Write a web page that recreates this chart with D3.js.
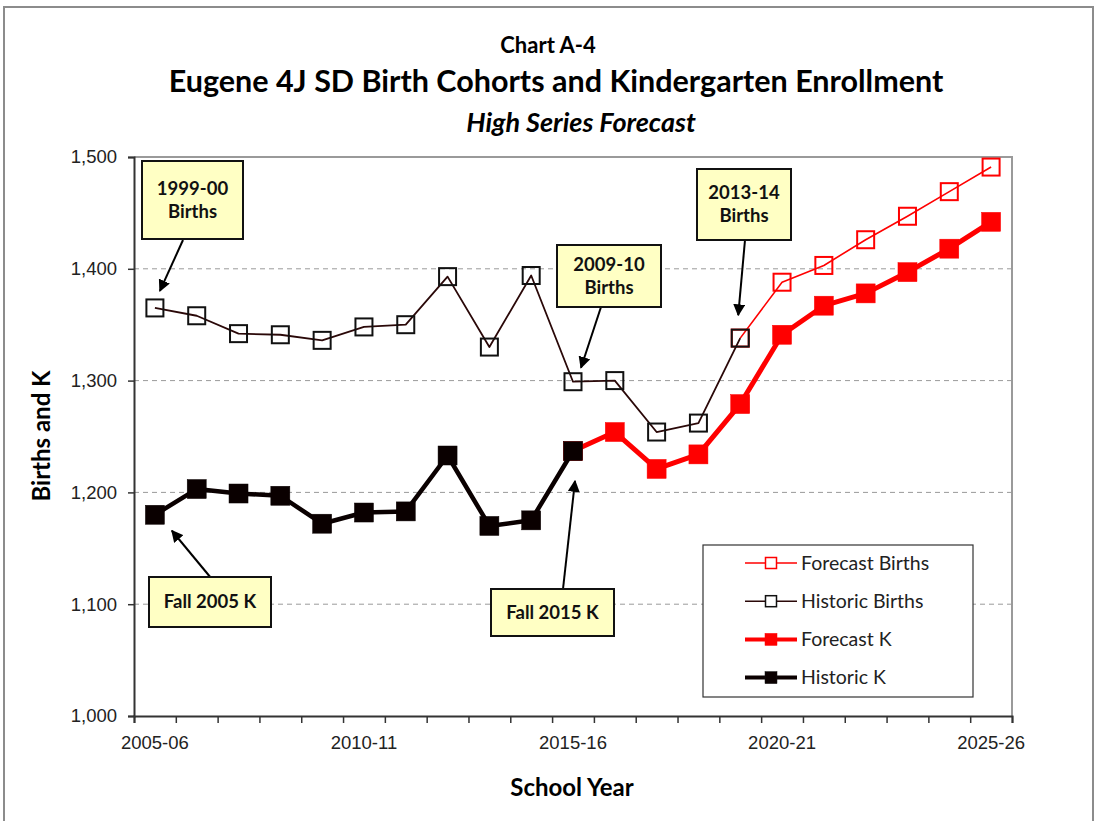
<!DOCTYPE html>
<html>
<head>
<meta charset="utf-8">
<script src="https://cdn.jsdelivr.net/npm/d3@7"></script>
<style>
    body { margin: 0; background: #fff; }
    svg { font-family: Lato, "Open Sans", sans-serif; }
</style>
</head>
<body>
<div id="chart"></div>
<script>
const years = ["2005-06", "2006-07", "2007-08", "2008-09", "2009-10", "2010-11", "2011-12",
    "2012-13", "2013-14", "2014-15", "2015-16", "2016-17", "2017-18", "2018-19", "2019-20",
    "2020-21", "2021-22", "2022-23", "2023-24", "2024-25", "2025-26"];
const yearLabels = ["2005-06", "2010-11", "2015-16", "2020-21", "2025-26"];
const yTicks = [1000, 1100, 1200, 1300, 1400, 1500];

// births: index 0-14 historic, 14-20 forecast
const historicBirths = [1365, 1358, 1342, 1341, 1336, 1348, 1350, 1393, 1330, 1394, 1299, 1300, 1254, 1262, 1338];
const forecastBirths = [1338, 1388, 1403, 1426, 1447, 1469, 1491];
// K: index 0-10 historic, 10-20 forecast
const historicK = [1180, 1203, 1199, 1197, 1172, 1182, 1183, 1233, 1170, 1175, 1237];
const forecastK = [1237, 1254, 1221, 1234, 1279, 1341, 1367, 1378, 1397, 1418, 1442];

const width = 1097;
const height = 821;

const svg = d3.select("#chart")
    .append("svg")
    .attr("width", width)
    .attr("height", height);

// outer frame
svg.append("rect")
    .attr("x", 4).attr("y", 7)
    .attr("width", 1089).attr("height", 830)
    .attr("fill", "none")
    .attr("stroke", "#8c8c8c")
    .attr("stroke-width", 2);

const x = d3.scaleBand()
    .domain(years)
    .range([134, 1012]);

const xEdge = d3.scaleLinear()
    .domain([0, years.length])
    .range([134, 1012]);

const y = d3.scaleLinear()
    .domain([1000, 1500])
    .range([716, 157]);

const cx = d => x(d) + x.bandwidth() / 2;

// gridlines
svg.append("g")
    .selectAll("line")
    .data(yTicks.slice(1, -1))
    .enter().append("line")
    .attr("x1", 134).attr("x2", 1012)
    .attr("y1", d => y(d)).attr("y2", d => y(d))
    .attr("stroke", "#9a9a9a")
    .attr("stroke-dasharray", "5,4");

// plot frame (top / right)
svg.append("path")
    .attr("d", `M134,157H1012V716`)
    .attr("fill", "none")
    .attr("stroke", "#9a9a9a")
    .attr("stroke-width", 2);

// y axis
const yAxis = svg.append("g")
    .attr("transform", "translate(134,0)")
    .call(d3.axisLeft(y).tickValues(yTicks).tickFormat(d3.format(",")).tickSize(6).tickPadding(11));
yAxis.selectAll("text").attr("font-size", 18.5).attr("fill", "#222");

// x axis tick marks at category edges
const xAxisTicks = svg.append("g")
    .attr("transform", "translate(0,716)")
    .call(d3.axisBottom(xEdge).tickValues(d3.range(years.length + 1)).tickFormat("").tickSize(7));

// x axis labels at category centers
const xAxisLabels = svg.append("g")
    .attr("transform", "translate(0,716)")
    .call(d3.axisBottom(x).tickValues(yearLabels).tickSize(0).tickPadding(20));
xAxisLabels.select(".domain").remove();
xAxisLabels.selectAll("text").attr("font-size", 18.5).attr("fill", "#222");

[yAxis, xAxisTicks].forEach(g => {
    g.select(".domain").attr("stroke", "#333").attr("stroke-width", 2);
    g.selectAll(".tick line").attr("stroke", "#333").attr("stroke-width", 1.5);
});

// titles
svg.append("text")
    .attr("x", 548).attr("y", 53)
    .attr("text-anchor", "middle")
    .attr("font-size", 22).attr("font-weight", "bold")
    .text("Chart A-4");
svg.append("text")
    .attr("x", 556).attr("y", 92)
    .attr("text-anchor", "middle")
    .attr("font-size", 30.5).attr("font-weight", "bold")
    .text("Eugene 4J SD Birth Cohorts and  Kindergarten Enrollment");
svg.append("text")
    .attr("x", 581).attr("y", 132)
    .attr("text-anchor", "middle")
    .attr("font-size", 27).attr("font-weight", "bold").attr("font-style", "italic")
    .text("High Series Forecast");

svg.append("text")
    .attr("transform", "translate(50,436) rotate(-90)")
    .attr("text-anchor", "middle")
    .attr("font-size", 24).attr("font-weight", "bold")
    .text("Births and K");
svg.append("text")
    .attr("x", 572).attr("y", 796)
    .attr("text-anchor", "middle")
    .attr("font-size", 24).attr("font-weight", "bold")
    .text("School Year");

// series
const series = [
    { name: "Forecast Births", values: forecastBirths, start: 14, color: "#ff0000", width: 1.6, filled: false, size: 17 },
    { name: "Forecast K", values: forecastK, start: 10, color: "#ff0000", width: 5, filled: true, size: 19 },
    { name: "Historic Births", values: historicBirths, start: 0, color: "#2a0808", width: 1.8, filled: false, size: 17 },
    { name: "Historic K", values: historicK, start: 0, color: "#0a0000", width: 4.5, filled: true, size: 19 }
];

const line = d3.line()
    .x(d => cx(d.year))
    .y(d => y(d.value));

series.forEach(s => {
    const pts = s.values.map((v, i) => ({ year: years[s.start + i], value: v }));
    const g = svg.append("g").attr("class", "series");
    g.append("path")
        .datum(pts)
        .attr("d", line)
        .attr("fill", "none")
        .attr("stroke", s.color)
        .attr("stroke-width", s.width)
        .attr("stroke-linejoin", "round");
    const half = s.size / 2;
    g.selectAll("rect")
        .data(pts)
        .enter().append("rect")
        .attr("x", d => cx(d.year) - half)
        .attr("y", d => y(d.value) - half)
        .attr("width", s.size)
        .attr("height", s.size)
        .attr("fill", s.filled ? s.color : "none")
        .attr("stroke", s.filled ? s.color : (s.color === "#ff0000" ? "#ff0000" : "#111"))
        .attr("stroke-width", s.filled ? 0.5 : 2);
});

// callouts, arrow tip anchored to a data point
const callouts = [
    { lines: ["1999-00", "Births"], box: [142, 161, 101, 78], tail: [183, 240], year: "2005-06", value: historicBirths[0], dx: 5, dy: -17 },
    { lines: ["2009-10", "Births"], box: [557, 245, 104, 62], tail: [601, 307], year: "2015-16", value: historicBirths[10], dx: 8, dy: -14 },
    { lines: ["2013-14", "Births"], box: [697, 169, 94, 71], tail: [745, 240], year: "2019-20", value: historicBirths[14], dx: -2, dy: -23 },
    { lines: ["Fall 2005 K"], box: [149, 577, 122, 50], tail: [211, 578], year: "2005-06", value: historicK[0], dx: 17, dy: 16 },
    { lines: ["Fall 2015 K"], box: [491, 589, 123, 47], tail: [563, 589], year: "2015-16", value: historicK[10], dx: 2, dy: 30 }
];

svg.append("defs").append("marker")
    .attr("id", "arrow")
    .attr("viewBox", "0 0 10 10")
    .attr("refX", 9).attr("refY", 5)
    .attr("markerWidth", 6).attr("markerHeight", 6)
    .attr("markerUnits", "strokeWidth")
    .attr("orient", "auto")
    .append("path")
    .attr("d", "M0,0L10,5L0,10Z")
    .attr("fill", "#000");

callouts.forEach(c => {
    const tipX = cx(c.year) + c.dx;
    const tipY = y(c.value) + c.dy;
    svg.append("line")
        .attr("x1", c.tail[0]).attr("y1", c.tail[1])
        .attr("x2", tipX).attr("y2", tipY)
        .attr("stroke", "#000")
        .attr("stroke-width", 2)
        .attr("marker-end", "url(#arrow)");
    svg.append("rect")
        .attr("x", c.box[0]).attr("y", c.box[1])
        .attr("width", c.box[2]).attr("height", c.box[3])
        .attr("fill", "#ffffc4")
        .attr("stroke", "#111")
        .attr("stroke-width", 2);
    const midX = c.box[0] + c.box[2] / 2;
    const midY = c.box[1] + c.box[3] / 2;
    const lh = 23;
    c.lines.forEach((t, i) => {
        svg.append("text")
            .attr("x", midX)
            .attr("y", midY + (i - (c.lines.length - 1) / 2) * lh)
            .attr("dy", "0.35em")
            .attr("text-anchor", "middle")
            .attr("font-size", 18.5).attr("font-weight", "bold")
            .attr("fill", "#111")
            .text(t);
    });
});

// legend
const legend = svg.append("g");
legend.append("rect")
    .attr("x", 703).attr("y", 545)
    .attr("width", 270).attr("height", 152)
    .attr("fill", "#fff")
    .attr("stroke", "#333")
    .attr("stroke-width", 1.2);

const legendItems = [series[0], series[2], series[1], series[3]];
legendItems.forEach((s, i) => {
    const ly = 563 + i * 38.2;
    const item = legend.append("g");
    item.append("line")
        .attr("x1", 745).attr("x2", 797)
        .attr("y1", ly).attr("y2", ly)
        .attr("stroke", s.color)
        .attr("stroke-width", s.filled ? 4 : 1.6);
    const ms = s.filled ? 12 : 11;
    item.append("rect")
        .attr("x", 771 - ms / 2).attr("y", ly - ms / 2)
        .attr("width", ms).attr("height", ms)
        .attr("fill", s.filled ? s.color : "#fff")
        .attr("stroke", s.color === "#ff0000" ? "#ff0000" : "#111")
        .attr("stroke-width", s.filled ? 0.5 : 1.5);
    item.append("text")
        .attr("x", 801).attr("y", ly)
        .attr("dy", "0.35em")
        .attr("font-size", 19.5)
        .attr("fill", "#222")
        .text(s.name);
});
</script>
</body>
</html>
